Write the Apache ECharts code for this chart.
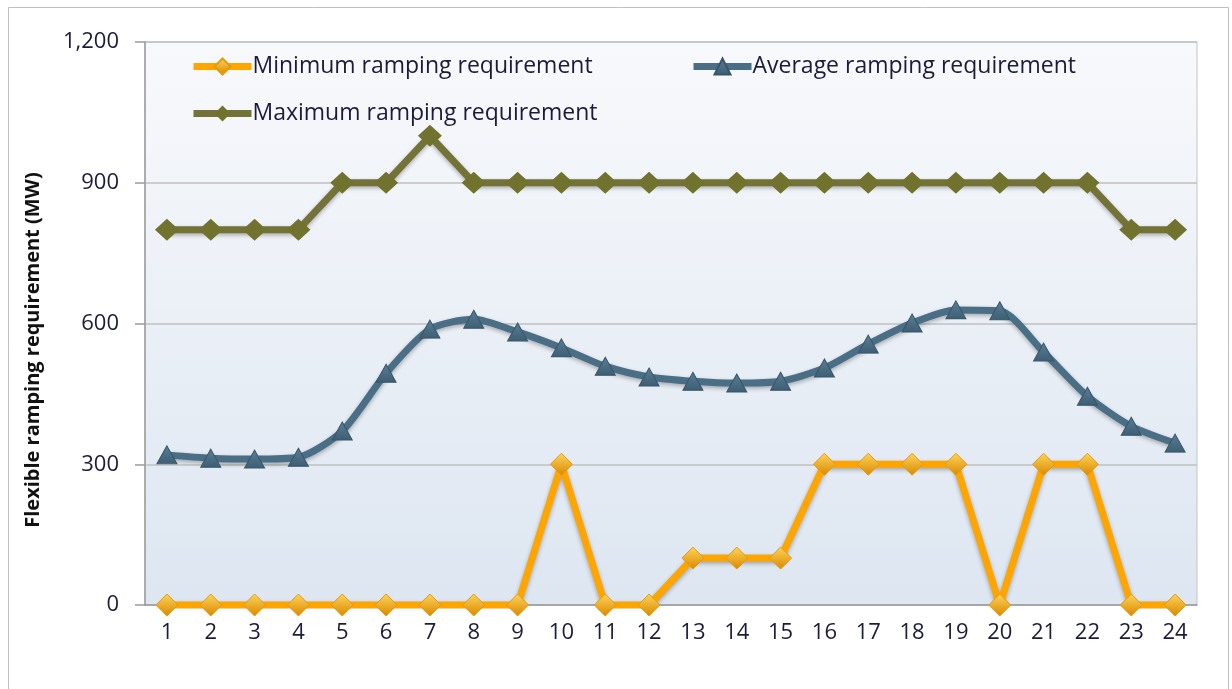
<!DOCTYPE html>
<html>
<head>
<meta charset="utf-8">
<script src="https://cdn.jsdelivr.net/npm/echarts@6/dist/echarts.min.js"></script>
<style>
  html, body { margin: 0; padding: 0; background: #fff; }
  #chart { width: 1232px; height: 689px; }
</style>
</head>
<body>
<div id="chart"></div>
<script>
var hours = ['1','2','3','4','5','6','7','8','9','10','11','12','13','14','15','16','17','18','19','20','21','22','23','24'];
var minRamp = [0,0,0,0,0,0,0,0,0,300,0,0,100,100,100,300,300,300,300,0,300,300,0,0];
var avgRamp = [320,313,311,315,371,494,588,609,582,548,509,486,477,473,477,505,556,601,629,627,539,445,381,345];
var maxRamp = [800,800,800,800,900,900,1000,900,900,900,900,900,900,900,900,900,900,900,900,900,900,900,800,800];
var yTicks = [0,300,600,900,1200];
var yTitle = 'Flexible ramping requirement (MW)';

var chart = echarts.init(document.getElementById('chart'));

var shadow = { shadowBlur: 4, shadowColor: 'rgba(0,0,0,0.3)', shadowOffsetY: 2 };
var txtColor = '#1c1c3a';

var option = {
  animation: false,
  textStyle: { fontFamily: 'Open Sans' },
  graphic: [{
    type: 'rect',
    shape: { x: 8.5, y: 7.5, width: 1220, height: 700 },
    style: { fill: 'none', stroke: '#bfbfbf', lineWidth: 1 },
    silent: true
  }, {
    // y axis title, placed like the original (a bit below the plot centre)
    type: 'text',
    x: 33, y: 350,
    rotation: Math.PI / 2,
    style: {
      text: yTitle,
      fontFamily: 'Open Sans',
      fontSize: 20,
      fontWeight: 'bold',
      fill: '#111',
      align: 'center',
      verticalAlign: 'middle'
    },
    silent: true
  }],
  grid: {
    left: 145, right: 35, top: 42, bottom: 84,
    show: true,
    borderColor: '#c4c4c4',
    borderWidth: 1,
    backgroundColor: new echarts.graphic.LinearGradient(0, 0, 0, 1, [
      { offset: 0, color: '#f8f9fc' },
      { offset: 1, color: '#dde6f1' }
    ])
  },
  legend: [{
    left: 190, top: 55, padding: 0,
    orient: 'vertical',
    itemWidth: 58, itemHeight: 20, itemGap: 24,
    lineStyle: { width: 7 },
    textStyle: { fontSize: 23, color: txtColor, padding: [0, 0, 0, -4] },
    data: ['Minimum ramping requirement', 'Maximum ramping requirement']
  }, {
    left: 690, top: 55, padding: 0,
    itemWidth: 58, itemHeight: 20,
    lineStyle: { width: 7 },
    textStyle: { fontSize: 23, color: txtColor, padding: [0, 0, 0, -4] },
    data: ['Average ramping requirement']
  }],
  xAxis: {
    type: 'category',
    data: hours,
    boundaryGap: true,
    axisLine: { lineStyle: { color: '#9c9c9c', width: 1.5 } },
    axisTick: { length: 6, lineStyle: { color: '#9c9c9c', width: 1.5 } },
    axisLabel: { fontSize: 22, color: txtColor, margin: 17 }
  },
  yAxis: {
    type: 'value',
    min: 0, max: 1200, interval: 300,
    axisLine: { show: true, lineStyle: { color: '#9c9c9c', width: 1.5 } },
    axisTick: { show: true, length: 10, lineStyle: { color: '#9c9c9c', width: 1.5 } },
    splitLine: { lineStyle: { color: '#c0c0c0', width: 1.5 } },
    axisLabel: {
      fontSize: 22, color: txtColor, margin: 26,
      formatter: function (v) {
        return yTicks.indexOf(v) >= 0 ? v.toLocaleString('en-US') : '';
      }
    }
  },
  series: [{
    name: 'Minimum ramping requirement',
    type: 'line',
    data: minRamp,
    symbol: 'diamond',
    symbolSize: [22, 22],
    lineStyle: Object.assign({ color: '#ffa500', width: 7 }, shadow),
    itemStyle: {
      color: new echarts.graphic.LinearGradient(0, 0, 0, 1, [
        { offset: 0, color: '#ffd55a' },
        { offset: 1, color: '#d98800' }
      ]),
      borderColor: '#e59a10', borderWidth: 1
    },
    z: 4
  }, {
    name: 'Average ramping requirement',
    type: 'line',
    data: avgRamp,
    smooth: 0.25,
    symbol: 'triangle',
    symbolSize: [20, 18],
    lineStyle: Object.assign({ color: '#4a6e85', width: 7 }, shadow),
    itemStyle: {
      color: new echarts.graphic.LinearGradient(0, 0, 0, 1, [
        { offset: 0, color: '#5a7f98' },
        { offset: 1, color: '#3d5d72' }
      ]),
      borderColor: '#37566a', borderWidth: 1
    },
    z: 3
  }, {
    name: 'Maximum ramping requirement',
    type: 'line',
    data: maxRamp,
    symbol: 'diamond',
    symbolSize: [24, 22],
    lineStyle: Object.assign({ color: '#737337', width: 7 }, shadow),
    itemStyle: { color: '#72722f' },
    z: 2
  }]
};

chart.setOption(option);
</script>
</body>
</html>
